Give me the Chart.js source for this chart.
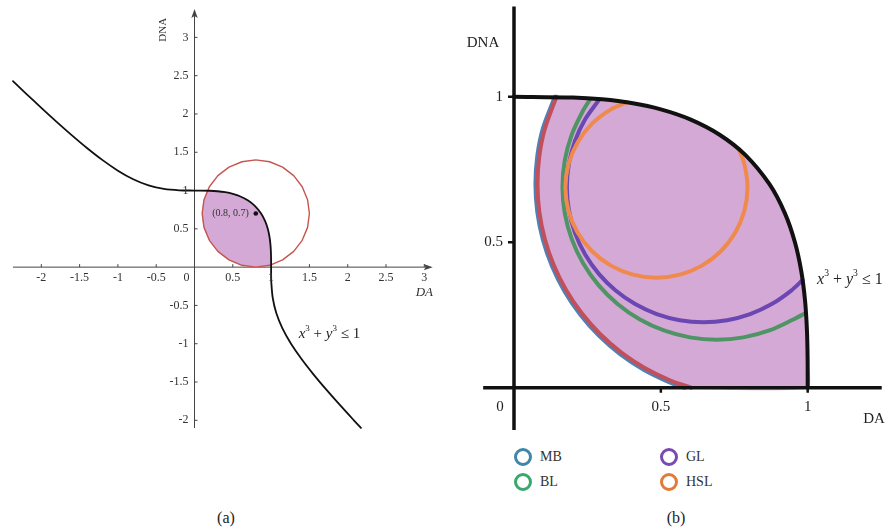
<!DOCTYPE html>
<html>
<head>
<meta charset="utf-8">
<script src="https://cdn.jsdelivr.net/npm/chart.js@4/dist/chart.umd.min.js"></script>
<style>
  body { margin: 0; width: 890px; height: 531px; background: #fff; position: relative; overflow: hidden;
         font-family: "Liberation Serif", "DejaVu Serif", serif; color: #333; }
  canvas { position: absolute; top: 0; }
  #chartA { left: 0; }
  #chartB { left: 445px; }
  .caption { position: absolute; top: 518px; font-size: 16px; transform: translate(-50%, -50%); color: #222; }
  .legend-item { position: absolute; display: flex; align-items: center; height: 18px; font-size: 14px; color: #333; }
  .ring { width: 12px; height: 12px; border: 3px solid; border-radius: 50%; margin-right: 8px; box-sizing: content-box; }
</style>
</head>
<body>
<canvas id="chartA" width="445" height="440"></canvas>
<canvas id="chartB" width="445" height="440"></canvas>
<div class="caption" style="left:226px">(a)</div>
<div class="caption" style="left:676px">(b)</div>
<div id="legendB"></div>

<script>
// ---- panel (a): boundary x^3 + y^3 = 1 ----
const curveX = [-2.37, -2.2, -2.0, -1.8, -1.6, -1.4, -1.2, -1.0, -0.8, -0.6,
  -0.4, -0.2, 0, 0.2, 0.3, 0.4, 0.5, 0.6, 0.7, 0.7874,
  0.8693, 0.9221, 0.9565, 0.9782, 0.9909, 0.9973, 0.9997, 1.0, 1.0003, 1.0027,
  1.0209, 1.0674, 1.1478, 1.2599, 1.3972, 1.5528, 1.7211, 1.8975, 2.0801, 2.1731];
const curveY = [2.428, 2.2664, 2.0801, 1.8975, 1.7211, 1.5528, 1.3972, 1.2599, 1.1478, 1.0674,
  1.0209, 1.0027, 1, 0.9973, 0.9909, 0.9782, 0.9565, 0.9221, 0.8693, 0.8,
  0.7, 0.6, 0.5, 0.4, 0.3, 0.2, 0.1, 0, -0.1, -0.2,
  -0.4, -0.6, -0.8, -1.0, -1.2, -1.4, -1.6, -1.8, -2.0, -2.1];

// circle around (0.8, 0.7)
const circleX = [1.5, 1.476, 1.406, 1.295, 1.15, 0.981, 0.8, 0.619, 0.45, 0.305, 0.194, 0.124, 0.1,
  0.124, 0.194, 0.305, 0.45, 0.619, 0.8, 0.981, 1.15, 1.295, 1.406, 1.476, 1.5];
const circleY = [0.7, 0.881, 1.05, 1.195, 1.306, 1.376, 1.4, 1.376, 1.306, 1.195, 1.05, 0.881, 0.7,
  0.519, 0.35, 0.205, 0.094, 0.024, 0, 0.024, 0.094, 0.205, 0.35, 0.519, 0.7];

// shaded part: inside the circle and under the boundary
const regionAX = [0.167, 0.124, 0.1, 0.124, 0.194, 0.305, 0.45, 0.619, 0.8, 0.981, 1.0, 0.9997,
  0.9973, 0.9909, 0.9782, 0.9565, 0.9221, 0.8693, 0.7874, 0.7281, 0.6471, 0.5224, 0.4436, 0.3097, 0.167];
const regionAY = [0.998, 0.881, 0.7, 0.519, 0.35, 0.205, 0.094, 0.024, 0, 0.024, 0.03, 0.1,
  0.2, 0.3, 0.4, 0.5, 0.6, 0.7, 0.8, 0.85, 0.9, 0.95, 0.97, 0.99, 0.998];

const pointX = [0.8];
const pointY = [0.7];
const pointLabel = "(0.8, 0.7)";

const ticksA = [-2, -1.5, -1, -0.5, 0.5, 1, 1.5, 2, 2.5, 3];
const tickLabelsA = ["-2", "-1.5", "-1", "-0.5", "0.5", "1", "1.5", "2", "2.5", "3"];

// ---- panel (b): the four arcs inside the region ----
const mbX = [0.139, 0.0981, 0.0793, 0.073, 0.0793, 0.0981, 0.1291, 0.1717, 0.2253, 0.2888, 0.3613, 0.4415, 0.5279, 0.58];
const mbY = [1.0, 0.8907, 0.7962, 0.7, 0.6038, 0.5093, 0.4179, 0.3315, 0.2513, 0.1788, 0.1153, 0.0617, 0.0191, 0.0];
const outerX = [0.1445, 0.1049, 0.0862, 0.08, 0.0862, 0.1049, 0.1356, 0.1778, 0.2309, 0.2938, 0.3656, 0.445, 0.5306, 0.603];
const outerY = [1.0, 0.8889, 0.7953, 0.7, 0.6047, 0.5111, 0.4206, 0.335, 0.2556, 0.1838, 0.1209, 0.0678, 0.0256, 0.0];
const glX = [0.29, 0.2423, 0.208, 0.1871, 0.18, 0.1871, 0.208, 0.2423, 0.2888, 0.3461, 0.4125, 0.486, 0.5643, 0.645,
  0.7257, 0.804, 0.8775, 0.9439, 0.983];
const glY = [0.99, 0.9225, 0.849, 0.7707, 0.69, 0.6093, 0.531, 0.4575, 0.3911, 0.3338, 0.2873, 0.253, 0.2321, 0.225,
  0.2321, 0.253, 0.2873, 0.3338, 0.37];
const blX = [0.26, 0.2353, 0.1967, 0.173, 0.165, 0.173, 0.1967, 0.2353, 0.2878, 0.3525, 0.4275, 0.5104, 0.5988, 0.69,
  0.7812, 0.8696, 0.9525, 0.992];
const blY = [0.992, 0.9525, 0.8696, 0.7812, 0.69, 0.5988, 0.5104, 0.4275, 0.3525, 0.2878, 0.2353, 0.1967, 0.173, 0.165,
  0.173, 0.1967, 0.2353, 0.256];
const hslX = [0.384, 0.33, 0.2658, 0.2165, 0.1856, 0.175, 0.1856, 0.2165, 0.2658, 0.33, 0.4048, 0.485, 0.5652, 0.64,
  0.7042, 0.7535, 0.7844, 0.795, 0.7844, 0.766];
const hslY = [0.981, 0.9565, 0.9072, 0.843, 0.7682, 0.688, 0.6078, 0.533, 0.4688, 0.4195, 0.3886, 0.378, 0.3886, 0.4195,
  0.4688, 0.533, 0.6078, 0.688, 0.7682, 0.819];

// shaded part: outside edge of the MB arc, closed along the boundary curve
const regionBX = [0.139, 0.0981, 0.0793, 0.073, 0.0793, 0.0981, 0.1291, 0.1717, 0.2253, 0.2888, 0.3613, 0.4415, 0.5279, 0.58,
  1.0, 0.9997, 0.9973, 0.9909, 0.9782, 0.9565, 0.9221, 0.8693, 0.7874, 0.7, 0.6, 0.5, 0.4, 0.3, 0.2, 0.139];
const regionBY = [1.0, 0.8907, 0.7962, 0.7, 0.6038, 0.5093, 0.4179, 0.3315, 0.2513, 0.1788, 0.1153, 0.0617, 0.0191, 0.0,
  0, 0.1, 0.2, 0.3, 0.4, 0.5, 0.6, 0.7, 0.8, 0.8693, 0.9221, 0.9565, 0.9782, 0.9909, 0.9973, 0.9991];

const ticksB = [0.5, 1];
const tickLabelsB = ["0.5", "1"];

const legendNames = ["MB", "BL", "GL", "HSL"];
const legendColors = ["#3f86a8", "#3aa86c", "#7a4ab3", "#e27b3a"];

const PINK = "#d5a9d5";
const SERIF = '"Liberation Serif", "DejaVu Serif", serif';

function pts(xs, ys) {
  return xs.map(function (x, i) { return { x: x, y: ys[i] }; });
}

function lineSet(xs, ys, color, width, order, tension) {
  return {
    data: pts(xs, ys), showLine: true, fill: false,
    borderColor: color, borderWidth: width, pointRadius: 0,
    tension: tension, borderCapStyle: "round", borderJoinStyle: "round", order: order
  };
}

function areaSet(xs, ys, color, order) {
  return {
    data: pts(xs, ys), showLine: true, fill: "shape",
    backgroundColor: color, borderColor: color, borderWidth: 0.5, pointRadius: 0,
    tension: 0.2, order: order
  };
}

function baseOptions(xr, yr) {
  return {
    responsive: false, animation: false, devicePixelRatio: 1, events: [],
    layout: { padding: 0 },
    plugins: { legend: { display: false }, tooltip: { enabled: false } },
    scales: {
      x: { type: "linear", min: xr[0], max: xr[1], display: false },
      y: { type: "linear", min: yr[0], max: yr[1], display: false }
    }
  };
}

// x^3 + y^3 <= 1 with italic variables and superscripts
function drawInequality(ctx, left, midY, size) {
  const parts = [
    ["x", "italic", 1, 0], ["3", "", 0.6, 0.42], [" + ", "", 1, 0],
    ["y", "italic", 1, 0], ["3", "", 0.6, 0.42], [" \u2264 1", "", 1, 0]
  ];
  let x = left;
  ctx.textAlign = "left";
  ctx.textBaseline = "middle";
  parts.forEach(function (p) {
    ctx.font = (p[1] ? p[1] + " " : "") + (size * p[2]).toFixed(1) + "px " + SERIF;
    ctx.fillText(p[0], x, midY - size * p[3]);
    x += ctx.measureText(p[0]).width;
  });
}

// axes through the origin with arrow heads, drawn under the data
const axesA = {
  id: "axesA",
  beforeDatasetsDraw(chart) {
    const ctx = chart.ctx;
    const xs = chart.scales.x, ys = chart.scales.y;
    const x0 = xs.getPixelForValue(0), y0 = ys.getPixelForValue(0);
    const left = xs.getPixelForValue(-2.37), right = xs.getPixelForValue(3.11);
    const top = ys.getPixelForValue(3.37), bottom = ys.getPixelForValue(-2.1);
    ctx.save();
    ctx.strokeStyle = "#444";
    ctx.fillStyle = "#444";
    ctx.lineWidth = 1;
    ctx.beginPath();
    ctx.moveTo(left, y0); ctx.lineTo(right - 5, y0);
    ctx.moveTo(x0, bottom); ctx.lineTo(x0, top + 5);
    ticksA.forEach(function (t) {
      const px = xs.getPixelForValue(t), py = ys.getPixelForValue(t);
      ctx.moveTo(px, y0 - 3); ctx.lineTo(px, y0);
      ctx.moveTo(x0, py); ctx.lineTo(x0 + 3, py);
    });
    ctx.stroke();
    // arrow heads
    ctx.beginPath();
    ctx.moveTo(right, y0); ctx.lineTo(right - 9, y0 - 3.2); ctx.lineTo(right - 7, y0); ctx.lineTo(right - 9, y0 + 3.2);
    ctx.closePath();
    ctx.moveTo(x0, top); ctx.lineTo(x0 - 3.2, top + 9); ctx.lineTo(x0, top + 7); ctx.lineTo(x0 + 3.2, top + 9);
    ctx.closePath();
    ctx.fill();
    ctx.restore();
  },
  afterDatasetsDraw(chart) {
    const ctx = chart.ctx;
    const xs = chart.scales.x, ys = chart.scales.y;
    const x0 = xs.getPixelForValue(0), y0 = ys.getPixelForValue(0);
    ctx.save();
    ctx.fillStyle = "#333";
    ctx.font = "12px " + SERIF;
    ctx.textBaseline = "middle";
    ctx.textAlign = "center";
    ticksA.forEach(function (t, i) {
      ctx.fillText(tickLabelsA[i], xs.getPixelForValue(t), y0 + 11);
    });
    ctx.fillText("0", x0 - 8, y0 + 11);
    ctx.textAlign = "right";
    ticksA.forEach(function (t, i) {
      ctx.fillText(tickLabelsA[i], x0 - 6, ys.getPixelForValue(t));
    });
    // axis titles
    ctx.save();
    ctx.translate(x0 - 31, ys.getPixelForValue(3.1));
    ctx.rotate(-Math.PI / 2);
    ctx.textAlign = "center";
    ctx.font = "11px " + SERIF;
    ctx.fillText("DNA", 0, 0);
    ctx.restore();
    ctx.textAlign = "center";
    ctx.font = "italic 13px " + SERIF;
    ctx.fillText("DA", xs.getPixelForValue(3.0), y0 + 25);
    // marked point label
    ctx.font = "10px " + SERIF;
    ctx.textAlign = "right";
    ctx.fillText(pointLabel, xs.getPixelForValue(pointX[0]) - 7, ys.getPixelForValue(pointY[0]));
    ctx.fillStyle = "#222";
    drawInequality(ctx, xs.getPixelForValue(1.36), ys.getPixelForValue(-0.88), 15);
    ctx.restore();
  }
};

// thick axes and labels for panel (b), drawn over the data
const axesB = {
  id: "axesB",
  afterDatasetsDraw(chart) {
    const ctx = chart.ctx;
    const xs = chart.scales.x, ys = chart.scales.y;
    const x0 = xs.getPixelForValue(0), y0 = ys.getPixelForValue(0);
    ctx.save();
    ctx.strokeStyle = "#111";
    ctx.lineWidth = 3.5;
    ctx.beginPath();
    ctx.moveTo(xs.getPixelForValue(-0.105), y0); ctx.lineTo(xs.getPixelForValue(1.252), y0);
    ctx.moveTo(x0, ys.getPixelForValue(-0.145)); ctx.lineTo(x0, ys.getPixelForValue(1.31));
    ctx.stroke();
    ctx.lineWidth = 2.5;
    ctx.beginPath();
    ticksB.forEach(function (t) {
      const py = ys.getPixelForValue(t), px = xs.getPixelForValue(t);
      ctx.moveTo(x0 - 6, py); ctx.lineTo(x0, py);
      ctx.moveTo(px, y0); ctx.lineTo(px, y0 + 5);
    });
    ctx.stroke();

    ctx.fillStyle = "#222";
    ctx.font = "15px " + SERIF;
    ctx.textBaseline = "middle";
    ctx.textAlign = "right";
    ticksB.forEach(function (t, i) {
      ctx.fillText(tickLabelsB[i], x0 - 11, ys.getPixelForValue(t));
    });
    ctx.textAlign = "center";
    ticksB.forEach(function (t, i) {
      ctx.fillText(tickLabelsB[i], xs.getPixelForValue(t), y0 + 19);
    });
    ctx.fillText("0", x0 - 14, y0 + 19);
    ctx.fillText("DA", xs.getPixelForValue(1.226), y0 + 31);
    ctx.fillText("DNA", x0 - 31, ys.getPixelForValue(1.186));
    drawInequality(ctx, xs.getPixelForValue(1.032), ys.getPixelForValue(0.37), 16);
    ctx.restore();
  }
};

const chartA = new Chart(document.getElementById("chartA"), {
  type: "scatter",
  data: {
    datasets: [
      { data: pts(pointX, pointY), pointRadius: 2.3, pointBackgroundColor: "#111", pointBorderWidth: 0, order: 0 },
      lineSet(curveX, curveY, "#111", 1.8, 1, 0.3),
      lineSet(circleX, circleY, "#c4554f", 1.4, 2, 0),
      areaSet(regionAX, regionAY, PINK, 3)
    ]
  },
  options: baseOptions([-2.48718, 3.21795], [-2.20513, 3.43590]),
  plugins: [axesA]
});

const chartB = new Chart(document.getElementById("chartB"), {
  type: "scatter",
  data: {
    datasets: [
      lineSet(curveX.slice(12, 28), curveY.slice(12, 28), "#111", 4, 0, 0.3),
      lineSet(hslX, hslY, "#f08a4c", 4, 1, 0.3),
      lineSet(blX, blY, "#4e9464", 4, 2, 0.3),
      lineSet(glX, glY, "#6a47b2", 4, 3, 0.3),
      lineSet(outerX, outerY, "#c2505b", 4, 4, 0.3),
      lineSet(mbX, mbY, "#4f80b6", 4, 5, 0.3),
      areaSet(regionBX, regionBY, PINK, 6)
    ]
  },
  options: baseOptions([-0.23494, 1.28022], [-0.17973, 1.33230]),
  plugins: [axesB]
});

// legend for panel (b), two columns
const legendPos = [[514, 448], [514, 473], [660, 448], [660, 473]];
const legendEl = document.getElementById("legendB");
legendNames.forEach(function (name, i) {
  const item = document.createElement("div");
  item.className = "legend-item";
  item.style.left = legendPos[i][0] + "px";
  item.style.top = legendPos[i][1] + "px";
  item.innerHTML = '<span class="ring" style="border-color:' + legendColors[i] + '"></span>' + name;
  legendEl.appendChild(item);
});
</script>
</body>
</html>
